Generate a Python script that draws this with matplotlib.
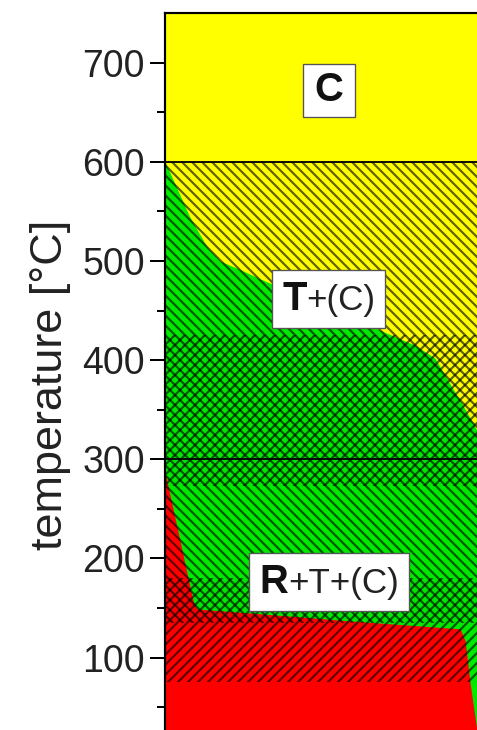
import matplotlib
matplotlib.use("Agg")
import matplotlib.pyplot as plt
from matplotlib.offsetbox import TextArea, HPacker, AnnotationBbox, DrawingArea

plt.rcParams["font.family"] = ["Liberation Sans", "DejaVu Sans"]
plt.rcParams["hatch.linewidth"] = 1.3

# Phase boundaries: x in relative composition units, temperature in °C
cubic_tet_x = [0, 8.0, 13.5, 17.6, 25.0, 30.4, 52.9, 70.5, 80.1, 86.5, 90.4, 95.2, 100.0, 105.2, 110.0]
cubic_tet_T = [600, 544, 514, 500, 490, 482, 452, 428, 415, 402, 381, 356, 329, 300, 300]
tet_rh_x = [0, 4.8, 9.0, 10.3, 27.2, 59.3, 94.6, 96.2, 97.8, 100.0, 101.1, 110.0]
tet_rh_T = [287, 218, 157, 149, 145, 137, 129, 117, 74, 26, 0, 0]

T_cubic = 600       # upper limit of the mixed-phase field
T_mid = 300         # reference isotherm
T_min, T_max = 0, 750
x_min, x_max = 0, 110

# temperature bands shown with hatching
back_hatch_band = (135, 600)
fwd_hatch_bands = [(273, 425), (75, 180)]

# phase-field labels: bold main phase, regular minor phases
label_main = ["C", "T", "R"]
label_rest = ["", "+(C)", "+T+(C)"]
label_T = [672, 462, 176]
label_x = [52.5, 52.5, 52.5]

yticks_major = [100, 200, 300, 400, 500, 600, 700]
yticks_minor = [50, 150, 250, 350, 450, 550, 650]

YELLOW = "#FFFF00"
GREEN = "#00EA00"
RED = "#FF0000"
HATCH = (0.0, 0.0, 0.0, 0.62)

W, H, DPI = 477, 730, 120
fig = plt.figure(figsize=(W / DPI, H / DPI), dpi=DPI)

# axes extend past the right and bottom edges of the canvas
px_per_x = 312 / 100.0
px_per_T = 595 / 600.0
left_px, top_px = 165, 13
ax_w_px = (x_max - x_min) * px_per_x
ax_h_px = (T_max - T_min) * px_per_T
ax = fig.add_axes([left_px / W, 1 - (top_px + ax_h_px) / H, ax_w_px / W, ax_h_px / H])
ax.set_xlim(x_min, x_max)
ax.set_ylim(T_min, T_max)

# coloured phase fields
ax.fill_between([x_min, x_max], T_min, T_max, color=YELLOW, lw=0, zorder=1)
ax.fill_between(cubic_tet_x, T_min, cubic_tet_T, color=GREEN, lw=0, zorder=2)
ax.fill_between(tet_rh_x, T_min, tet_rh_T, color=RED, lw=0, zorder=3)

# hatched temperature ranges
ax.fill_between([x_min, x_max], *back_hatch_band, facecolor="none",
                edgecolor=HATCH, hatch="\\\\\\\\", lw=0, zorder=4)
for lo, hi in fwd_hatch_bands:
    ax.fill_between([x_min, x_max], lo, hi, facecolor="none",
                    edgecolor=HATCH, hatch="////", lw=0, zorder=4)

ax.axhline(T_cubic, color="black", lw=1.1, zorder=5)
ax.axhline(T_mid, color="black", lw=1.1, zorder=5)

# labels in white boxes
for main, rest, xl, tl in zip(label_main, label_rest, label_x, label_T):
    parts = [TextArea(main, textprops=dict(fontsize=24, fontweight="bold", color="#111111"))]
    if rest:
        parts.append(TextArea(rest, textprops=dict(fontsize=21, color="#222222")))
        pad = 6.0
        side = 0.0
    else:
        pad = 4.5
        side = 2.5
    children = [DrawingArea(side, 0)] + parts + [DrawingArea(side, 0)]
    pack = HPacker(children=children, align="baseline", pad=pad, sep=0)
    ab = AnnotationBbox(pack, (xl, tl), xycoords="data", frameon=True, pad=0,
                        box_alignment=(0.5, 0.5),
                        bboxprops=dict(boxstyle="square,pad=0", facecolor="white",
                                       edgecolor="#555555", lw=0.8))
    ab.set_zorder(6)
    ax.add_artist(ab)

# axes styling
ax.set_yticks(yticks_major)
ax.set_yticks(yticks_minor, minor=True)
ax.tick_params(axis="y", which="major", direction="out", length=9, width=1.2,
               labelsize=22.5, labelcolor="#222222", pad=3)
ax.tick_params(axis="y", which="minor", direction="out", length=5, width=1.2)
ax.set_xticks([])
for s in ax.spines.values():
    s.set_linewidth(1.3)
    s.set_zorder(7)
ax.set_ylabel("temperature [°C]", fontsize=27, color="#222222", labelpad=7)

fig.savefig("out.png", dpi=DPI)
